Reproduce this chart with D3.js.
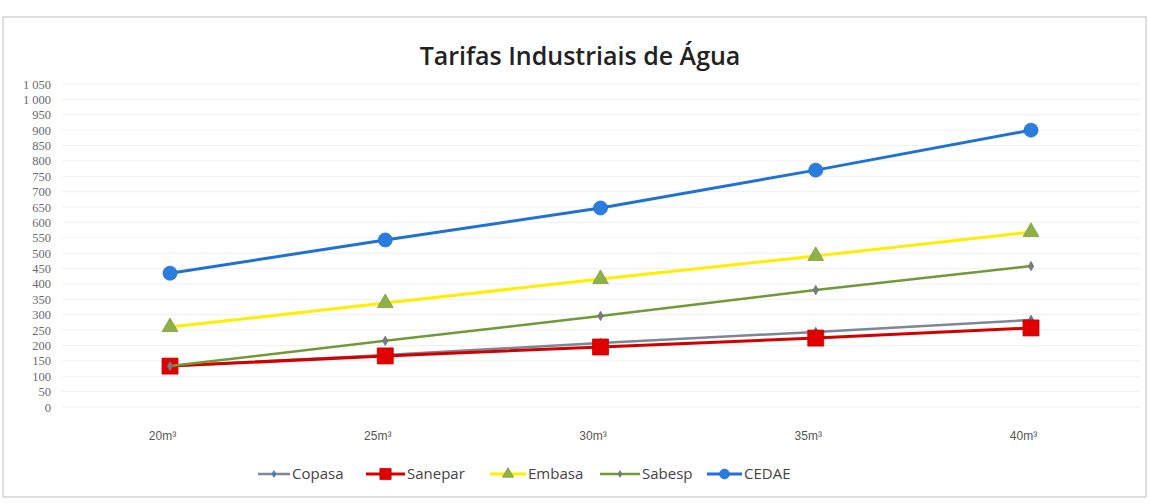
<!DOCTYPE html>
<html><head><meta charset="utf-8">
<script src="https://cdn.jsdelivr.net/npm/d3@7"></script>
<style>body{margin:0;background:#fff}</style>
</head><body><svg id="c" width="1149" height="504"></svg>
<script>
const categories = ["20m³","25m³","30m³","35m³","40m³"];
const seriesNames = ["Copasa","Sanepar","Embasa","Sabesp","CEDAE"];
const copasa  = [133,169,208,244,283];
const sanepar = [133,166,195,224,257];
const embasa  = [260,338,416,491,569];
const sabesp  = [133,215,296,380,458];
const cedae   = [435,543,647,770,900];
const yTicks = d3.range(0,1051,50);

const styles = {
  Copasa:{line:"#7d8796",marker:"diamond",fill:"#4a7ebb",size:5,width:2.5},
  Sanepar:{line:"#d40000",marker:"square",fill:"#e00000",size:16,width:3},
  Embasa:{line:"#ffee00",marker:"triangle",fill:"#8db047",size:14,width:3},
  Sabesp:{line:"#6f9a35",marker:"diamond",fill:"#7a7a80",size:5,width:2.5},
  CEDAE:{line:"#1f72d4",marker:"circle",fill:"#2a7de0",size:14,width:3}
};
const data = [copasa,sanepar,embasa,sabesp,cedae];

const svg = d3.select("#c");
svg.append("rect").attr("x",3).attr("y",17).attr("width",1143).attr("height",480)
  .attr("fill","#fff").attr("stroke","#c8c8c8").attr("stroke-width",1.2);

const x = d3.scalePoint().domain(categories).range([170,1031]);
const y = d3.scaleLinear().domain([0,1050]).range([407,84]);

// grid
svg.append("g").selectAll("line").data(yTicks).join("line")
  .attr("x1",62).attr("x2",1140).attr("y1",d=>y(d)).attr("y2",d=>y(d))
  .attr("stroke","#f0f0f0").attr("stroke-width",1);

// y axis
const ya = svg.append("g").attr("transform","translate(51,0)")
  .call(d3.axisLeft(y).tickValues(yTicks).tickSize(0).tickPadding(0)
    .tickFormat(d=>d3.format(",")(d).replace(","," ")));
ya.select(".domain").remove();
ya.selectAll("text").attr("font-family","Liberation Serif, serif")
  .attr("font-size",12.5).attr("fill","#6a6a70");

// x axis
const xa = svg.append("g").attr("transform","translate(-8,431)")
  .call(d3.axisBottom(x).tickSize(0).tickPadding(0));
xa.select(".domain").remove();
xa.selectAll("text").attr("font-family","Liberation Sans Narrow, Liberation Sans, sans-serif")
  .attr("font-size",12).attr("fill","#555");

// title
svg.append("text").attr("x",580).attr("y",65).attr("text-anchor","middle")
  .attr("font-family","Open Sans, sans-serif").attr("font-weight",600)
  .attr("font-size",25).attr("fill","#222").text("Tarifas Industriais de Água");

const symType = {circle:d3.symbolCircle,square:d3.symbolSquare,triangle:d3.symbolTriangle,diamond:d3.symbolDiamond};
function markerPath(s,scale){
  const st = styles[s];
  const sz = st.size*scale;
  const area = st.marker==="circle" ? Math.PI*(sz/2)**2 :
               st.marker==="triangle" ? sz*sz*0.55 : sz*sz;
  return d3.symbol().type(symType[st.marker]).size(area)();
}

const line = d3.line().x((d,i)=>x(categories[i])).y(d=>y(d));
seriesNames.forEach((s,k)=>{
  const st = styles[s];
  const g = svg.append("g");
  g.append("path").datum(data[k]).attr("d",line).attr("fill","none")
    .attr("stroke",st.line).attr("stroke-width",st.width);
  g.selectAll("path.m").data(data[k]).join("path").attr("class","m")
    .attr("transform",(d,i)=>`translate(${x(categories[i])},${y(d)})`)
    .attr("d",markerPath(s,1)).attr("fill",st.fill)
    .attr("stroke",d3.color(st.fill).darker(0.3)).attr("stroke-width",0.8);
});

// legend
const legX = [258,366,490,600,707];
const legW = [32,39,36,40,35];
const lg = svg.append("g").attr("transform","translate(0,474)");
seriesNames.forEach((s,k)=>{
  const st = styles[s];
  const g = lg.append("g").attr("transform",`translate(${legX[k]},0)`);
  g.append("line").attr("x1",0).attr("x2",legW[k]).attr("stroke",st.line).attr("stroke-width",st.width);
  g.append("path").attr("transform",`translate(${legW[k]/2},0)`).attr("d",markerPath(s,0.7))
    .attr("fill",st.fill).attr("stroke",d3.color(st.fill).darker(0.3)).attr("stroke-width",0.8);
  g.append("text").attr("x",legW[k]+2).attr("y",5).attr("font-family","Open Sans, sans-serif")
    .attr("font-size",15).attr("fill","#444").text(s);
});
</script></body></html>
